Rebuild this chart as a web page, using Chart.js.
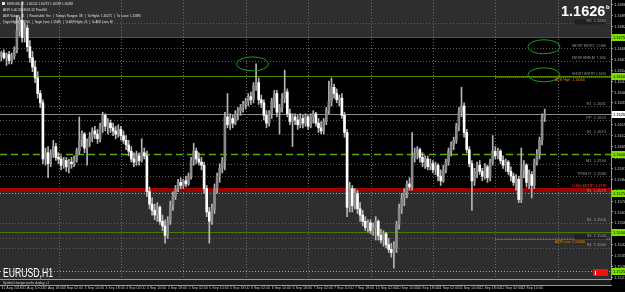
<!DOCTYPE html>
<html>
<head>
<meta charset="utf-8">
<style>
  html, body { margin: 0; padding: 0; background: #000; }
  #wrap { width: 625px; height: 292px; }
</style>
</head>
<body>
<div id="wrap"><canvas id="eurusd" width="625" height="292"></canvas></div>
<script src="https://cdn.jsdelivr.net/npm/chart.js@4.4.1/dist/chart.umd.min.js"></script>
<script>
// EURUSD H1, one candle per hour from 31 Aug 2018 02:00 to 12 Sep 17:00
const opens = [
  1.1663,1.1665,1.1662,1.1664,1.1660,1.1663,1.1667,1.1679,1.1686,1.1675,
  1.1681,1.1669,1.1662,1.1656,1.1649,1.1639,1.1633,1.1597,1.1601,1.1594,
  1.1600,1.1605,1.1598,1.1597,1.1593,1.1596,1.1592,1.1595,1.1594,1.1597,
  1.1602,1.1609,1.1613,1.1604,1.1608,1.1611,1.1615,1.1613,1.1610,1.1618,
  1.1625,1.1618,1.1620,1.1617,1.1615,1.1613,1.1616,1.1612,1.1609,1.1606,
  1.1602,1.1597,1.1595,1.1599,1.1596,1.1601,1.1599,1.1576,1.1568,1.1564,
  1.1561,1.1566,1.1557,1.1554,1.1548,1.1557,1.1567,1.1573,1.1578,1.1582,
  1.1580,1.1583,1.1581,1.1586,1.1596,1.1602,1.1597,1.1595,1.1593,1.1578,
  1.1563,1.1557,1.1565,1.1578,1.1586,1.1591,1.1596,1.1624,1.1619,1.1623,
  1.1620,1.1626,1.1628,1.1630,1.1632,1.1634,1.1637,1.1635,1.1644,1.1646,
  1.1635,1.1633,1.1625,1.1620,1.1626,1.1634,1.1639,1.1627,1.1630,1.1636,
  1.1640,1.1626,1.1621,1.1624,1.1622,1.1619,1.1623,1.1620,1.1624,1.1618,
  1.1624,1.1626,1.1620,1.1617,1.1615,1.1621,1.1628,1.1634,1.1643,1.1639,
  1.1635,1.1636,1.1625,1.1614,1.1566,1.1578,1.1567,1.1575,1.1565,1.1561,
  1.1557,1.1553,1.1556,1.1551,1.1553,1.1557,1.1548,1.1545,1.1549,1.1542,
  1.1539,1.1537,1.1540,1.1555,1.1565,1.1572,1.1576,1.1581,1.1579,1.1598,
  1.1601,1.1603,1.1598,1.1595,1.1597,1.1592,1.1594,1.1590,1.1593,1.1586,
  1.1583,1.1590,1.1595,1.1602,1.1606,1.1609,1.1618,1.1627,1.1631,1.1614,
  1.1603,1.1594,1.1583,1.1589,1.1593,1.1589,1.1586,1.1592,1.1585,1.1595,
  1.1602,1.1599,1.1602,1.1596,1.1593,1.1595,1.1589,1.1586,1.1582,1.1584,
  1.1571,1.1590,1.1593,1.1582,1.1587,1.1580,1.1595,1.1600,1.1609,1.1624
]
const highs = [
  1.1666,1.1667,1.1665,1.1666,1.1665,1.1669,1.1689,1.1688,1.1698,1.1684,
  1.1683,1.1673,1.1666,1.1660,1.1653,1.1641,1.1635,1.1604,1.1605,1.1603,
  1.1609,1.1607,1.1601,1.1599,1.1598,1.1598,1.1597,1.1598,1.1599,1.1604,
  1.1624,1.1615,1.1614,1.1610,1.1614,1.1617,1.1618,1.1616,1.1620,1.1627,
  1.1626,1.1623,1.1622,1.1620,1.1618,1.1619,1.1618,1.1615,1.1612,1.1609,
  1.1605,1.1601,1.1602,1.1601,1.1610,1.1604,1.1602,1.1579,1.1572,1.1568,
  1.1569,1.1567,1.1561,1.1558,1.1560,1.1570,1.1576,1.1580,1.1584,1.1585,
  1.1584,1.1586,1.1588,1.1598,1.1607,1.1604,1.1601,1.1598,1.1595,1.1580,
  1.1566,1.1568,1.1581,1.1588,1.1594,1.1598,1.1627,1.1639,1.1626,1.1625,
  1.1628,1.1630,1.1632,1.1634,1.1636,1.1639,1.1640,1.1646,1.1658,1.1649,
  1.1638,1.1635,1.1628,1.1628,1.1636,1.1641,1.1641,1.1632,1.1639,1.1654,
  1.1642,1.1629,1.1626,1.1626,1.1625,1.1626,1.1625,1.1626,1.1625,1.1626,
  1.1628,1.1627,1.1623,1.1621,1.1623,1.1630,1.1647,1.1649,1.1645,1.1642,
  1.1638,1.1639,1.1627,1.1616,1.1582,1.1580,1.1578,1.1577,1.1569,1.1564,
  1.1560,1.1558,1.1558,1.1556,1.1560,1.1558,1.1552,1.1551,1.1550,1.1546,
  1.1543,1.1544,1.1557,1.1568,1.1575,1.1578,1.1583,1.1585,1.1614,1.1604,
  1.1605,1.1604,1.1601,1.1599,1.1599,1.1597,1.1596,1.1595,1.1594,1.1590,
  1.1593,1.1597,1.1604,1.1608,1.1611,1.1620,1.1630,1.1643,1.1633,1.1616,
  1.1605,1.1596,1.1591,1.1595,1.1596,1.1591,1.1594,1.1593,1.1597,1.1612,
  1.1605,1.1604,1.1603,1.1599,1.1597,1.1596,1.1592,1.1588,1.1587,1.1586,
  1.1604,1.1596,1.1594,1.1590,1.1589,1.1597,1.1603,1.1611,1.1626,1.1629
]
const lows = [
  1.1660,1.1661,1.1657,1.1658,1.1658,1.1661,1.1665,1.1676,1.1672,1.1672,
  1.1666,1.1659,1.1653,1.1646,1.1636,1.1630,1.1594,1.1593,1.1585,1.1592,
  1.1598,1.1596,1.1594,1.1590,1.1591,1.1589,1.1588,1.1591,1.1592,1.1595,
  1.1600,1.1605,1.1601,1.1593,1.1605,1.1608,1.1610,1.1607,1.1608,1.1614,
  1.1615,1.1613,1.1614,1.1612,1.1610,1.1611,1.1609,1.1607,1.1603,1.1599,
  1.1595,1.1592,1.1593,1.1593,1.1595,1.1597,1.1573,1.1565,1.1561,1.1558,
  1.1557,1.1555,1.1551,1.1543,1.1546,1.1555,1.1564,1.1571,1.1576,1.1578,
  1.1578,1.1579,1.1580,1.1584,1.1593,1.1594,1.1593,1.1590,1.1575,1.1560,
  1.1543,1.1555,1.1562,1.1575,1.1582,1.1588,1.1590,1.1617,1.1616,1.1617,
  1.1619,1.1622,1.1625,1.1627,1.1629,1.1631,1.1632,1.1633,1.1641,1.1632,
  1.1630,1.1622,1.1617,1.1618,1.1623,1.1630,1.1624,1.1613,1.1627,1.1633,
  1.1624,1.1619,1.1605,1.1619,1.1616,1.1617,1.1617,1.1618,1.1616,1.1617,
  1.1620,1.1618,1.1614,1.1613,1.1613,1.1619,1.1626,1.1631,1.1636,1.1633,
  1.1631,1.1623,1.1611,1.1560,1.1563,1.1563,1.1565,1.1562,1.1557,1.1554,
  1.1551,1.1550,1.1549,1.1548,1.1545,1.1545,1.1543,1.1541,1.1540,1.1537,
  1.1534,1.1527,1.1537,1.1552,1.1562,1.1567,1.1572,1.1577,1.1577,1.1595,
  1.1597,1.1595,1.1592,1.1591,1.1590,1.1590,1.1588,1.1587,1.1583,1.1580,
  1.1582,1.1588,1.1593,1.1599,1.1603,1.1607,1.1615,1.1624,1.1611,1.1601,
  1.1592,1.1564,1.1580,1.1585,1.1587,1.1583,1.1584,1.1582,1.1583,1.1593,
  1.1597,1.1597,1.1594,1.1591,1.1589,1.1587,1.1583,1.1580,1.1577,1.1569,
  1.1569,1.1585,1.1579,1.1578,1.1572,1.1578,1.1593,1.1597,1.1606,1.1621
]
const closes = [
  1.1665,1.1662,1.1664,1.1660,1.1663,1.1667,1.1679,1.1686,1.1675,1.1681,
  1.1669,1.1662,1.1656,1.1649,1.1639,1.1633,1.1597,1.1601,1.1594,1.1600,
  1.1605,1.1598,1.1597,1.1593,1.1596,1.1592,1.1595,1.1594,1.1597,1.1602,
  1.1609,1.1613,1.1604,1.1608,1.1611,1.1615,1.1613,1.1610,1.1618,1.1625,
  1.1618,1.1620,1.1617,1.1615,1.1613,1.1616,1.1612,1.1609,1.1606,1.1602,
  1.1597,1.1595,1.1599,1.1596,1.1601,1.1599,1.1576,1.1568,1.1564,1.1561,
  1.1566,1.1557,1.1554,1.1548,1.1557,1.1567,1.1573,1.1578,1.1582,1.1580,
  1.1583,1.1581,1.1586,1.1596,1.1602,1.1597,1.1595,1.1593,1.1578,1.1563,
  1.1557,1.1565,1.1578,1.1586,1.1591,1.1596,1.1624,1.1619,1.1623,1.1620,
  1.1626,1.1628,1.1630,1.1632,1.1634,1.1637,1.1635,1.1644,1.1646,1.1635,
  1.1633,1.1625,1.1620,1.1626,1.1634,1.1639,1.1627,1.1630,1.1636,1.1640,
  1.1626,1.1621,1.1624,1.1622,1.1619,1.1623,1.1620,1.1624,1.1618,1.1624,
  1.1626,1.1620,1.1617,1.1615,1.1621,1.1628,1.1634,1.1643,1.1639,1.1635,
  1.1636,1.1625,1.1614,1.1566,1.1578,1.1567,1.1575,1.1565,1.1561,1.1557,
  1.1553,1.1556,1.1551,1.1553,1.1557,1.1548,1.1545,1.1549,1.1542,1.1539,
  1.1537,1.1540,1.1555,1.1565,1.1572,1.1576,1.1581,1.1579,1.1598,1.1601,
  1.1603,1.1598,1.1595,1.1597,1.1592,1.1594,1.1590,1.1593,1.1586,1.1583,
  1.1590,1.1595,1.1602,1.1606,1.1609,1.1618,1.1627,1.1631,1.1614,1.1603,
  1.1594,1.1583,1.1589,1.1593,1.1589,1.1586,1.1592,1.1585,1.1595,1.1602,
  1.1599,1.1602,1.1596,1.1593,1.1595,1.1589,1.1586,1.1582,1.1584,1.1571,
  1.1590,1.1593,1.1582,1.1587,1.1580,1.1595,1.1600,1.1609,1.1624,1.1626
]

// the chart keeps empty hours on the right, past the last candle
const slotCount = 235
const xTickLabels = [
  "31 Aug 2018", "31 Aug 10:00", "31 Aug 18:00", "3 Sep 02:00", "3 Sep 10:00", "3 Sep 18:00",
  "4 Sep 02:00", "4 Sep 10:00", "4 Sep 18:00", "5 Sep 02:00", "5 Sep 10:00", "5 Sep 18:00",
  "6 Sep 02:00", "6 Sep 10:00", "6 Sep 18:00", "7 Sep 02:00", "7 Sep 10:00", "7 Sep 18:00",
  "10 Sep 02:00", "10 Sep 10:00", "10 Sep 18:00", "11 Sep 02:00", "11 Sep 10:00", "11 Sep 18:00",
  "12 Sep 02:00", "12 Sep 10:00"
]
const yTicks = [
  1.1696, 1.1689, 1.1682, 1.1675, 1.1668, 1.1661, 1.1654, 1.1647, 1.1640, 1.1633, 1.1626, 1.1619, 1.1612,
  1.1605, 1.1598, 1.1591, 1.1584, 1.1577, 1.1570, 1.1563, 1.1556, 1.1549, 1.1542, 1.1535, 1.1528, 1.1521
]
const dayStarts = [22, 46, 70, 94, 118, 142, 166, 190, 214] // 00:00 of each day

const lastPrice = 1.1626
const zoneTop = 1.1675     // black zone between these two
const zoneBottom = 1.1577
const levelPrices = [1.1675, 1.1650, 1.1600, 1.1578, 1.1575, 1.1550, 1.1525]
const levelLabels = ["", "SHORT ENTRY 1.1650", "", "LONG ENTRY 1.1578", "S1  1.1575", "", ""]
const axisMarks = [1.1675, 1.1650, 1.1600, 1.1575, 1.1550, 1.1525]
const pivotPrices = [1.1684, 1.1668, 1.1660, 1.1631, 1.1622, 1.1613, 1.1594, 1.1586, 1.1556, 1.1546, 1.1540]
const pivotLabels = ["R3  1.1684", "SHORT ENTRY  1.1668", "ENTER HERE AT  1.1660", "R1  1.1631", "PP  1.1622",
  "S1  1.1613", "M1  1.1594", "TP/BUY  1.1586", "S2  1.1556", "S3  1.1546", "S4  1.1540"]
const adrStart = 190
const adrPrices = [1.1650, 1.1546]
const adrLabels = ["ADR High: 1.16500", "ADR Low: 1.15466"]
const ellipseIdx = [96.6, 208.7, 208.7]
const ellipsePrices = [1.1658, 1.1669, 1.1651]
const headerLines = [
  "EURUSD,H1  1.16242 1.16273 1.16239 1.16268",
  "ADR 1.00 2018.09.12 Pool 60",
  "ADR Values: 81   |  Reachable: Yes   |  Today's Ranges: 38   |  To Highs: 1.16271   |  To Lows: 1.15890",
  "Target Highs: 1.16500   |  Target Lows: 1.15466   |  To ADR Highs: 24   |  To ADR Lows: 80"
]

const FONT = "'Liberation Sans', Arial, sans-serif"

function levelStyle(i) {
  // colour, dash, width for each entry of levelPrices
  return [
    ["#2f6e00", [], 1],
    ["#4f8c00", [], 1],
    ["#5da600", [7, 4], 1.5],
    ["#a30000", [], 3],
    ["#93cc00", [1, 2], 1],
    ["#3f7d00", [], 1],
    ["#93cc00", [1, 2], 1]
  ][i]
}

const mtPlugin = {
  id: "mt",
  beforeDatasetsDraw(chart) {
    const { ctx, chartArea: a, scales: { x, y } } = chart
    ctx.save()
    ctx.fillStyle = "#2e2e2e"
    ctx.fillRect(a.left, a.top, a.width, a.height)
    const yt = y.getPixelForValue(zoneTop), yb = y.getPixelForValue(zoneBottom)
    ctx.fillStyle = "#000"
    ctx.fillRect(a.left, yt, a.width, yb - yt)

    // day separators
    ctx.strokeStyle = "#6a6a6a"
    ctx.lineWidth = 1
    ctx.setLineDash([1, 2])
    dayStarts.forEach(d => {
      const px = Math.round(x.getPixelForValue(d)) + 0.5
      ctx.beginPath(); ctx.moveTo(px, a.top); ctx.lineTo(px, a.bottom); ctx.stroke()
    })

    // pivot lines
    ctx.strokeStyle = "#5c5c5c"
    pivotPrices.forEach(p => {
      const py = Math.round(y.getPixelForValue(p)) + 0.5
      ctx.beginPath(); ctx.moveTo(a.left, py); ctx.lineTo(a.right, py); ctx.stroke()
    })

    // bid line
    ctx.setLineDash([])
    ctx.strokeStyle = "#8a8a8a"
    let py = Math.round(y.getPixelForValue(lastPrice)) + 0.5
    ctx.beginPath(); ctx.moveTo(a.left, py); ctx.lineTo(a.right, py); ctx.stroke()

    // levels
    levelPrices.forEach((p, i) => {
      const [c, dash, w] = levelStyle(i)
      ctx.strokeStyle = c
      ctx.setLineDash(dash)
      ctx.lineWidth = w
      const ly = Math.round(y.getPixelForValue(p)) + (w % 2 ? 0.5 : 0)
      ctx.beginPath(); ctx.moveTo(a.left, ly); ctx.lineTo(a.right, ly); ctx.stroke()
    })

    // ADR lines
    ctx.strokeStyle = "#d08000"
    ctx.lineWidth = 1
    ctx.setLineDash([1, 1])
    const ax = x.getPixelForValue(adrStart)
    adrPrices.forEach(p => {
      const ly = Math.round(y.getPixelForValue(p)) + 1.5
      ctx.beginPath(); ctx.moveTo(ax, ly); ctx.lineTo(a.right, ly); ctx.stroke()
    })
    ctx.restore()
  },
  afterDraw(chart) {
    const { ctx, chartArea: a, scales: { x, y } } = chart
    ctx.save()

    // ellipses
    ctx.strokeStyle = "#1e9a1e"
    ctx.lineWidth = 1
    ellipseIdx.forEach((ix, i) => {
      ctx.beginPath()
      ctx.ellipse(x.getPixelForValue(ix), y.getPixelForValue(ellipsePrices[i]), 16, 7, 0, 0, Math.PI * 2)
      ctx.stroke()
    })

    // right-hand labels for pivots and levels
    ctx.textAlign = "right"
    ctx.textBaseline = "bottom"
    ctx.font = "4px " + FONT
    pivotPrices.forEach((p, i) => {
      const ly = y.getPixelForValue(p)
      if (i === 0 || i === 9) {
        ctx.fillStyle = "#202020"
        ctx.fillRect(574, ly - 4, 32, 5)
      }
      ctx.fillStyle = "#9a9a9a"
      ctx.fillText(pivotLabels[i], 606, ly - 0.5, 34)
    })
    levelPrices.forEach((p, i) => {
      if (!levelLabels[i]) return
      ctx.fillStyle = i === 3 ? "#ff3a3a" : "#9a9a9a"
      ctx.fillText(levelLabels[i], 606, y.getPixelForValue(p) - 0.5, 34)
    })
    ctx.textAlign = "left"
    ctx.textBaseline = "top"
    ctx.fillStyle = "#e08a00"
    adrPrices.forEach((p, i) => {
      ctx.fillText(adrLabels[i], 555, y.getPixelForValue(p) + 1.5, 30)
    })

    // header text
    ctx.fillStyle = "#e0e0e0"
    ctx.fillRect(2, 2, 3, 3)
    const headerWidths = [66, 44, 138, 110]
    headerLines.forEach((t, i) => {
      ctx.fillText(t, i === 0 ? 7 : 3, 1.5 + i * 6, headerWidths[i])
    })

    // last price
    ctx.fillStyle = "#ffffff"
    ctx.font = "bold 14.5px " + FONT
    ctx.textBaseline = "alphabetic"
    ctx.fillText(lastPrice.toFixed(4), 561, 15.5)
    ctx.font = "bold 6px " + FONT
    ctx.fillText("b", 606, 9)

    ctx.font = "12px " + FONT
    ctx.fillText("EURUSD,H1", 3, 276.5, 50)

    // price axis labels, placed on the axis ticks
    ctx.font = "4px " + FONT
    ctx.textBaseline = "middle"
    ctx.fillStyle = "#c8c8c8"
    yTicks.forEach(v => {
      ctx.fillText(v.toFixed(4), a.right + 3, y.getPixelForValue(v) + 0.5)
    })
    axisMarks.forEach(p => {
      const ly = Math.round(y.getPixelForValue(p))
      ctx.fillStyle = "#7fe000"
      ctx.fillRect(a.right + 1, ly - 3, 14, 7)
      ctx.fillStyle = "#000"
      ctx.fillText(p.toFixed(4), a.right + 2, ly + 0.5)
    })
    let ly = Math.round(y.getPixelForValue(lastPrice))
    ctx.fillStyle = "#ffffff"
    ctx.fillRect(a.right + 1, ly - 3, 14, 7)
    ctx.fillStyle = "#000"
    ctx.fillText(lastPrice.toFixed(4), a.right + 2, ly + 0.5)

    // symbol changer strip
    ctx.fillStyle = "#1c1c1c"
    ctx.fillRect(0, a.bottom, a.right, 6)
    ctx.strokeStyle = "#9a9a9a"
    ctx.lineWidth = 1
    ctx.beginPath()
    ctx.moveTo(0, a.bottom + 0.5); ctx.lineTo(a.right, a.bottom + 0.5)
    ctx.moveTo(0, a.bottom + 6.5); ctx.lineTo(a.right + 1, a.bottom + 6.5)
    ctx.stroke()
    ctx.fillStyle = "#d0d0d0"
    ctx.fillText("Symbol changer prefix display +1", 3, a.bottom + 3.5, 46)

    // time axis labels, every 8 hours
    ctx.font = "3.6px " + FONT
    ctx.textBaseline = "top"
    ctx.fillStyle = "#c8c8c8"
    xTickLabels.forEach((t, i) => {
      ctx.fillText(t, x.getPixelForValue(i * 8), a.bottom + 7.5)
    })

    // alert box
    ctx.fillStyle = "#f01010"
    ctx.fillRect(593, 269, 15, 7)
    ctx.fillStyle = "#ffffff"
    ctx.fillRect(595, 271, 1, 4)
    ctx.restore()
  }
}

const slots = Array.from({ length: slotCount }, (_, i) => String(i))
const bull = "#8a8a8a", bear = "#ffffff", wick = "#b4b4b4"

new Chart(document.getElementById("eurusd"), {
  type: "bar",
  data: {
    labels: slots,
    datasets: [
      {
        label: "body",
        data: opens.map((o, i) => [o, closes[i]]),
        backgroundColor: opens.map((o, i) => closes[i] > o ? bull : bear),
        barThickness: 2,
        minBarLength: 1,
        grouped: false
      },
      {
        label: "wick",
        data: lows.map((l, i) => [l, highs[i]]),
        backgroundColor: wick,
        barThickness: 1,
        grouped: false
      }
    ]
  },
  options: {
    responsive: false,
    devicePixelRatio: 1,
    animation: false,
    layout: { padding: 0 },
    plugins: { legend: { display: false }, tooltip: { enabled: false } },
    scales: {
      x: {
        grid: { display: false },
        border: { display: true, color: "#9a9a9a" },
        afterFit: s => { s.height = 13 },
        ticks: { display: false }
      },
      y: {
        position: "right",
        min: 1.1520,
        max: 1.1699,
        afterFit: s => { s.width = 14 },
        afterBuildTicks: s => { s.ticks = yTicks.map(v => ({ value: v })) },
        grid: { display: true, drawOnChartArea: false, drawTicks: true, tickLength: 2, color: "#9a9a9a" },
        border: { display: true, color: "#9a9a9a" },
        ticks: { display: false }
      }
    }
  },
  plugins: [mtPlugin]
})
</script>
</body>
</html>
